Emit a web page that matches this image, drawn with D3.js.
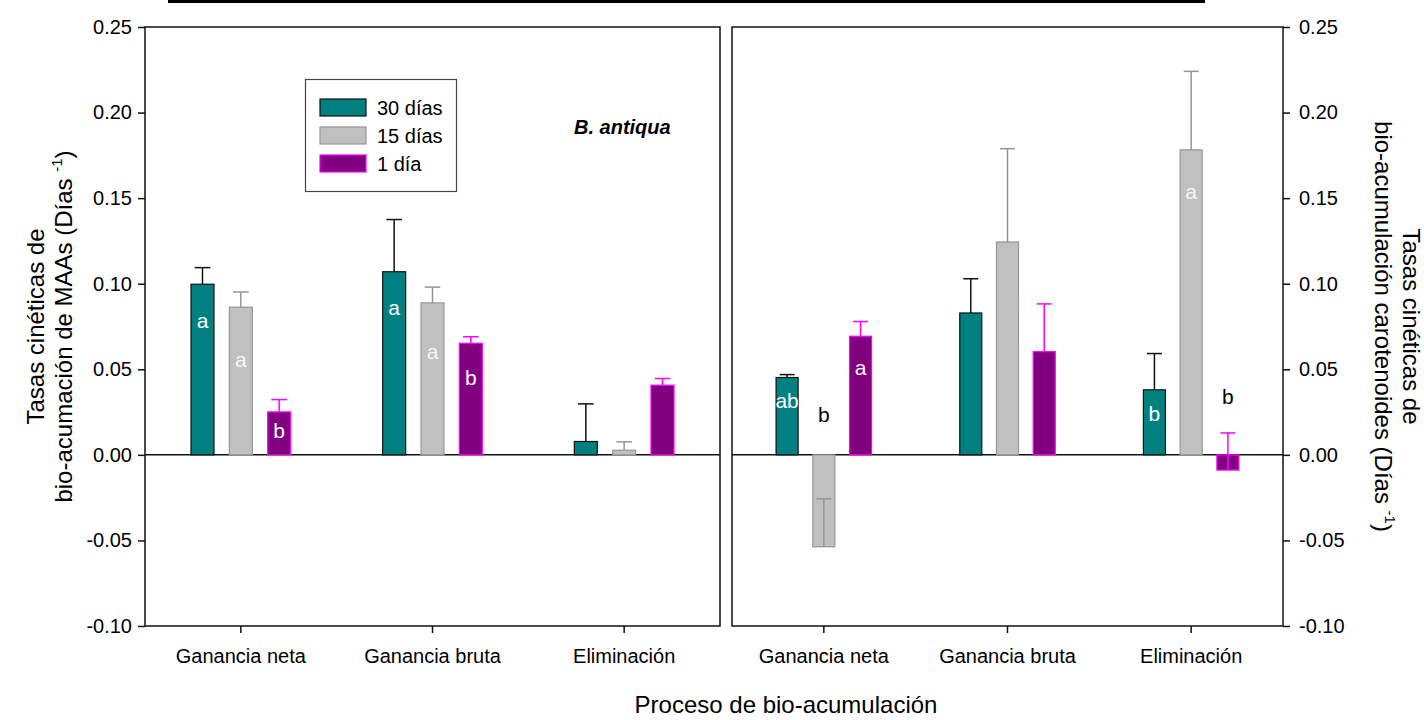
<!DOCTYPE html>
<html>
<head>
<meta charset="utf-8">
<script src="https://cdn.jsdelivr.net/npm/d3@7"></script>
<style>
  html, body { margin: 0; padding: 0; background: #fff; }
  svg { display: block; font-family: "Liberation Sans", Arial, sans-serif; }
</style>
</head>
<body>
<svg id="chart" width="1424" height="720"></svg>
<script>
// ---------- DATA ----------
const categories = ["Ganancia neta", "Ganancia bruta", "Eliminación"];
const seriesNames = ["30 días", "15 días", "1 día"];
const yTickValues = [-0.10, -0.05, 0.00, 0.05, 0.10, 0.15, 0.20, 0.25];

// Left panel: MAAs
const maas30 = [0.0997, 0.1070, 0.0078];
const maas15 = [0.0863, 0.0888, 0.0027];
const maas1  = [0.0251, 0.0652, 0.0407];
const maasErr30 = [0.0097, 0.0305, 0.0220];
const maasErr15 = [0.0089, 0.0092, 0.0049];
const maasErr1  = [0.0072, 0.0038, 0.0039];
const maasLetters30 = ["a", "a", ""];
const maasLetters15 = ["a", "a", ""];
const maasLetters1  = ["b", "b", ""];
const maasLetterY30 = [0.0742, 0.0818, null];
const maasLetterY15 = [0.0514, 0.0560, null];
const maasLetterY1  = [0.0099, 0.0409, null];

// Right panel: carotenoides
const car30 = [0.0452, 0.0829, 0.0380];
const car15 = [-0.0537, 0.1244, 0.1782];
const car1  = [0.0693, 0.0603, -0.0089];
const carErr30 = [0.0017, 0.0200, 0.0212];
const carErr15 = [0.0280, 0.0545, 0.0459];
const carErr1  = [0.0086, 0.0279, 0.0217];
const carLetters30 = ["ab", "", "b"];
const carLetters15 = ["b", "", "a"];
const carLetters1  = ["a", "", "b"];
const carLetterY30 = [0.0275, null, 0.0196];
const carLetterY15 = [0.0190, null, 0.1495];
const carLetterY1  = [0.0464, null, 0.0298];

// ---------- STYLES ----------
const fills   = {"30 días": "#008080", "15 días": "#c0c0c0", "1 día": "#800080"};
const strokes = {"30 días": "#111111", "15 días": "#969696", "1 día": "#ff00ff"};
const errCol  = {"30 días": "#111111", "15 días": "#969696", "1 día": "#ff00ff"};

function buildRows(vals, errs, letters, letterY) {
  const rows = [];
  categories.forEach((c, i) => {
    seriesNames.forEach((s, j) => {
      rows.push({cat: c, ser: s, v: vals[j][i], e: errs[j][i], lab: letters[j][i], ly: letterY[j][i]});
    });
  });
  return rows;
}
const leftRows = buildRows([maas30, maas15, maas1], [maasErr30, maasErr15, maasErr1],
  [maasLetters30, maasLetters15, maasLetters1], [maasLetterY30, maasLetterY15, maasLetterY1]);
const rightRows = buildRows([car30, car15, car1], [carErr30, carErr15, carErr1],
  [carLetters30, carLetters15, carLetters1], [carLetterY30, carLetterY15, carLetterY1]);

// ---------- LAYOUT ----------
const svg = d3.select("#chart");
const plotTop = 27, plotBottom = 626;
const y = d3.scaleLinear().domain([-0.10, 0.25]).range([plotBottom, plotTop]);
const fmt = d => d3.format(".2f")(d).replace("\u2212", "-");

// top black bar
svg.append("rect").attr("x", 168).attr("y", 0).attr("width", 1037).attr("height", 3).attr("fill", "#000");

function drawPanel(x0, x1, rows, side) {
  const g = svg.append("g");
  const xb = d3.scaleBand().domain(categories).range([x0, x1]).padding(0);
  const bw = xb.bandwidth();
  const xs = d3.scalePoint().domain(seriesNames).range([-0.2 * bw, 0.2 * bw]);
  const barW = 0.12 * bw;
  const capW = 0.68 * barW;

  g.append("line").attr("x1", x0).attr("x2", x1).attr("y1", y(0)).attr("y2", y(0))
    .attr("stroke", "#111").attr("stroke-width", 1.5);

  g.selectAll("rect.bar").data(rows).join("rect").attr("class", "bar")
    .attr("x", d => xb(d.cat) + bw / 2 + xs(d.ser) - barW / 2)
    .attr("y", d => y(Math.max(0, d.v)))
    .attr("width", barW)
    .attr("height", d => Math.abs(y(d.v) - y(0)))
    .attr("fill", d => fills[d.ser])
    .attr("stroke", d => strokes[d.ser])
    .attr("stroke-width", 1.2);

  const eg = g.selectAll("g.err").data(rows).join("g").attr("class", "err")
    .attr("stroke", d => errCol[d.ser]).attr("stroke-width", 1.5);
  eg.append("line")
    .attr("x1", d => xb(d.cat) + bw / 2 + xs(d.ser))
    .attr("x2", d => xb(d.cat) + bw / 2 + xs(d.ser))
    .attr("y1", d => y(d.v)).attr("y2", d => y(d.v + d.e));
  eg.append("line")
    .attr("x1", d => xb(d.cat) + bw / 2 + xs(d.ser) - capW / 2)
    .attr("x2", d => xb(d.cat) + bw / 2 + xs(d.ser) + capW / 2)
    .attr("y1", d => y(d.v + d.e)).attr("y2", d => y(d.v + d.e));

  g.selectAll("text.lab").data(rows.filter(d => d.lab)).join("text").attr("class", "lab")
    .attr("x", d => xb(d.cat) + bw / 2 + xs(d.ser))
    .attr("y", d => y(d.ly))
    .attr("text-anchor", "middle")
    .attr("font-size", 21)
    .attr("fill", d => {
      const inside = d.v >= 0 ? (d.ly < d.v && d.ly > 0) : (d.ly > d.v && d.ly < 0);
      return inside ? (d.ser === "15 días" ? "#f6f6f6" : "#ffffff") : "#000";
    })
    .text(d => d.lab);

  g.append("rect").attr("x", x0).attr("y", plotTop).attr("width", x1 - x0).attr("height", plotBottom - plotTop)
    .attr("fill", "none").attr("stroke", "#111").attr("stroke-width", 1.5);

  const xa = g.append("g").attr("transform", `translate(0,${plotBottom})`)
    .call(d3.axisBottom(xb).tickSize(7).tickSizeOuter(0).tickPadding(16));
  xa.select(".domain").remove();
  xa.selectAll("line").attr("stroke", "#111").attr("stroke-width", 1.5);
  xa.selectAll("text").attr("font-size", 20).attr("fill", "#000")
    .attr("font-family", "Liberation Sans, Arial, sans-serif");

  const axis = side === "left" ? d3.axisLeft(y) : d3.axisRight(y);
  const ya = g.append("g").attr("transform", `translate(${side === "left" ? x0 : x1},0)`)
    .call(axis.tickValues(yTickValues).tickFormat(fmt).tickSize(7).tickSizeOuter(0).tickPadding(side === "left" ? 6 : 9));
  ya.select(".domain").remove();
  ya.selectAll("line").attr("stroke", "#111").attr("stroke-width", 1.5);
  ya.selectAll("text").attr("font-size", 20).attr("fill", "#000")
    .attr("font-family", "Liberation Sans, Arial, sans-serif");
}

drawPanel(145, 720, leftRows, "left");
drawPanel(732, 1283, rightRows, "right");

// legend
const lg = svg.append("g");
lg.append("rect").attr("x", 305.5).attr("y", 79.5).attr("width", 151).attr("height", 112)
  .attr("fill", "#fff").attr("stroke", "#444").attr("stroke-width", 1.2);
seriesNames.forEach((s, i) => {
  lg.append("rect").attr("x", 320).attr("y", 99 + i * 28).attr("width", 46).attr("height", 17)
    .attr("fill", fills[s]).attr("stroke", strokes[s]).attr("stroke-width", 1.2);
  lg.append("text").attr("x", 377).attr("y", 115 + i * 28).attr("font-size", 20).text(s);
});

svg.append("text").attr("x", 574).attr("y", 134).attr("font-size", 20)
  .attr("font-weight", "bold").attr("font-style", "italic").text("B. antiqua");

// axis titles
svg.append("text").attr("x", 786).attr("y", 713).attr("text-anchor", "middle")
  .attr("font-size", 24).text("Proceso de bio-acumulación");

const cy = (plotTop + plotBottom) / 2;
const lt = svg.append("g").attr("font-size", 24).attr("text-anchor", "middle");
lt.append("text").attr("transform", `translate(44,${cy}) rotate(-90)`).text("Tasas cinéticas de");
const l2 = lt.append("text").attr("transform", `translate(72,${cy}) rotate(-90)`);
l2.append("tspan").text("bio-acumación de MAAs (Días ");
l2.append("tspan").attr("font-size", 15).attr("dy", -10).text("-1");
l2.append("tspan").attr("dy", 10).text(")");

const rt = svg.append("g").attr("font-size", 24).attr("text-anchor", "middle");
rt.append("text").attr("transform", `translate(1403,${cy}) rotate(90)`).text("Tasas cinéticas de");
const r2 = rt.append("text").attr("transform", `translate(1375,${cy}) rotate(90)`);
r2.append("tspan").text("bio-acumulación carotenoides (Días ");
r2.append("tspan").attr("font-size", 15).attr("dy", -10).text("-1");
r2.append("tspan").attr("dy", 10).text(")");
</script>
</body>
</html>
